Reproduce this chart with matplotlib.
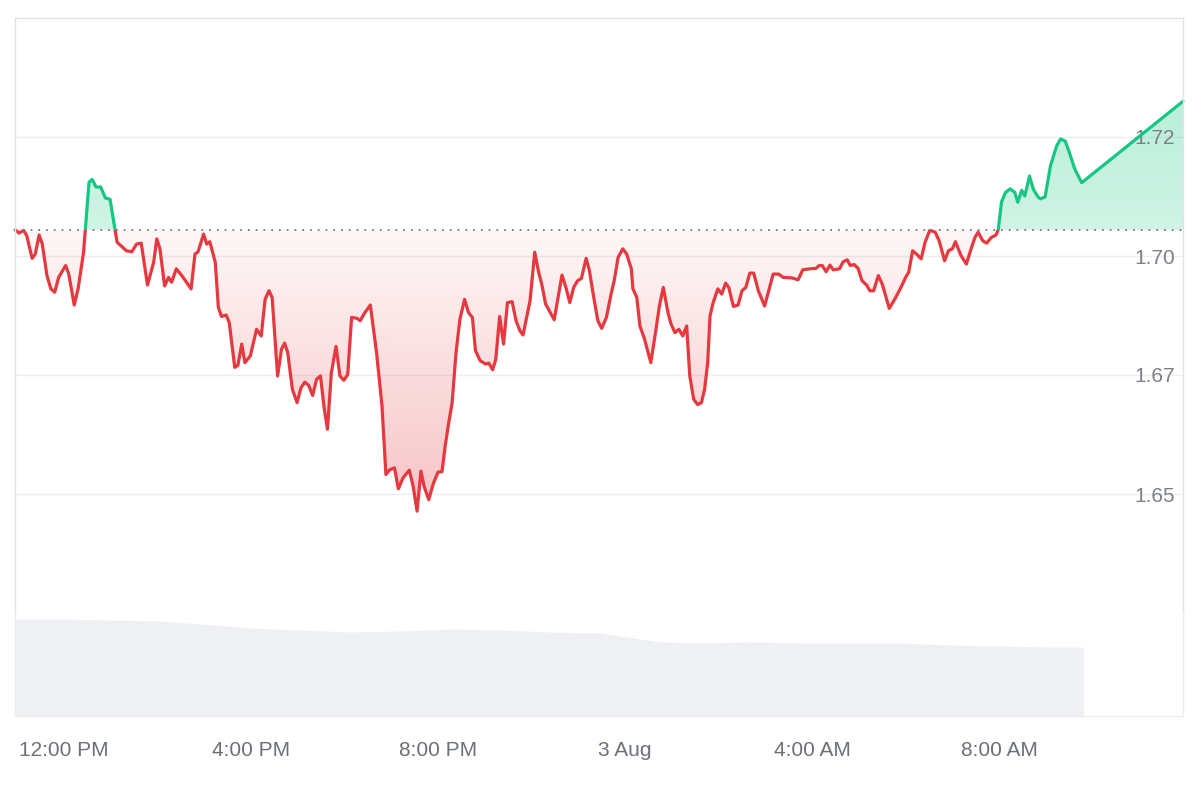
import numpy as np
import matplotlib
matplotlib.use("Agg")
import matplotlib.pyplot as plt
from matplotlib.path import Path
from matplotlib.patches import PathPatch, Rectangle
from matplotlib.colors import to_rgb

plt.rcParams['font.family'] = ['Liberation Sans', 'DejaVu Sans']

# time in minutes after 12:00 PM, 2 Aug
minutes = [-63, -61, -58, -52, -48, -41, -37, -32, -28, -22, -17, -12, -7, 2, 6, 13, 18, 25,
           32, 36, 41, 47, 53, 59, 68, 74, 80, 87, 93, 99, 107, 115, 119, 123, 129, 134, 138,
           144, 151, 157, 163, 168, 172, 179, 183, 187, 194, 198, 202, 208, 212, 219, 223, 228,
           232, 239, 247, 253, 258, 263, 267, 274, 279, 283, 287, 293, 299, 304, 309, 314, 319,
           324, 329, 334, 338, 343, 349, 354, 359, 364, 369, 376, 380, 386, 393, 401, 408, 413,
           418, 424, 429, 435, 443, 448, 453, 458, 462, 468, 474, 480, 485, 489, 493, 498, 503,
           508, 514, 519, 524, 528, 534, 541, 545, 550, 554, 559, 564, 569, 575, 580, 585, 589,
           598, 604, 609, 613, 618, 624, 629, 634, 639, 644, 649, 654, 659, 664, 670, 674, 679,
           685, 690, 696, 702, 706, 711, 717, 722, 728, 730, 735, 739, 745, 753, 759, 764, 769,
           775, 779, 784, 789, 794, 799, 803, 808, 813, 818, 822, 826, 829, 833, 839, 844, 849,
           853, 859, 865, 870, 875, 880, 885, 891, 899, 905, 910, 917, 923, 934, 942, 948, 957,
           965, 969, 973, 978, 983, 987, 995, 1000, 1005, 1009, 1014, 1019, 1024, 1030, 1034,
           1039, 1045, 1050, 1059, 1066, 1074, 1080, 1084, 1089, 1094, 1100, 1105, 1111, 1118,
           1123, 1130, 1135, 1140, 1144, 1151, 1158, 1164, 1169, 1173, 1179, 1184, 1190, 1196,
           1199, 1203, 1208, 1214, 1220, 1224, 1229, 1233, 1239, 1244, 1250, 1253, 1259, 1266,
           1274, 1279, 1285, 1290, 1297, 1306, 1436]

price = [1.7055, 1.7053, 1.7048, 1.7054, 1.7043, 1.6995, 1.7004, 1.7044, 1.7025, 1.6959, 1.6931,
         1.6924, 1.6955, 1.6980, 1.6962, 1.6897, 1.6931, 1.7008,
         1.7155, 1.7161, 1.7145, 1.7145, 1.7122, 1.7119, 1.7029, 1.7020, 1.7011, 1.7009, 1.7025,
         1.7027, 1.6939, 1.6987, 1.7036, 1.7015, 1.6937, 1.6955, 1.6945,
         1.6973, 1.6959, 1.6945, 1.6931, 1.7004, 1.7009, 1.7046, 1.7025, 1.7030, 1.6987, 1.6892,
         1.6873, 1.6876, 1.6860, 1.6766, 1.6770, 1.6815,
         1.6776, 1.6790, 1.6846, 1.6832, 1.6909, 1.6927, 1.6913, 1.6748, 1.6804, 1.6817, 1.6797,
         1.6720, 1.6692, 1.6723, 1.6735, 1.6728, 1.6707,
         1.6741, 1.6748, 1.6678, 1.6636, 1.6755, 1.6810, 1.6748, 1.6739, 1.6751, 1.6871, 1.6869,
         1.6864, 1.6881, 1.6897, 1.6797, 1.6685, 1.6541,
         1.6551, 1.6555, 1.6511, 1.6534, 1.6550, 1.6516, 1.6464, 1.6548, 1.6516, 1.6488, 1.6523,
         1.6546, 1.6547, 1.6600, 1.6643, 1.6692, 1.6797,
         1.6867, 1.6909, 1.6881, 1.6871, 1.6801, 1.6780, 1.6773, 1.6775, 1.6761, 1.6783, 1.6873,
         1.6815, 1.6902, 1.6904, 1.6864, 1.6843, 1.6834,
         1.6906, 1.7008, 1.6966, 1.6941, 1.6899, 1.6881, 1.6866, 1.6913, 1.6960, 1.6934, 1.6902,
         1.6934, 1.6948, 1.6953, 1.6995, 1.6971, 1.6920,
         1.6864, 1.6848, 1.6871, 1.6920, 1.6948, 1.6997, 1.7015, 1.7004, 1.6973, 1.6931, 1.6913,
         1.6853, 1.6825, 1.6776, 1.6839, 1.6895, 1.6934,
         1.6881, 1.6857, 1.6839, 1.6846, 1.6832, 1.6853, 1.6748, 1.6699, 1.6688, 1.6692, 1.6720,
         1.6776, 1.6874, 1.6902, 1.6931, 1.6920, 1.6943,
         1.6934, 1.6894, 1.6897, 1.6927, 1.6934, 1.6964, 1.6964, 1.6927, 1.6895, 1.6931, 1.6962,
         1.6962, 1.6955, 1.6954, 1.6950, 1.6971, 1.6973,
         1.6974, 1.6980, 1.6980, 1.6967, 1.6981, 1.6971, 1.6973, 1.6988, 1.6992, 1.6980, 1.6982,
         1.6974, 1.6948, 1.6939, 1.6927,
         1.6927, 1.6959, 1.6941, 1.6890, 1.6909, 1.6934, 1.6955, 1.6966, 1.7011, 1.7004, 1.6994,
         1.7029, 1.7054, 1.7050,
         1.7032, 1.6990, 1.7011, 1.7015, 1.7030, 1.7001, 1.6983, 1.7015, 1.7039, 1.7050, 1.7032,
         1.7027, 1.7039, 1.7044,
         1.7056, 1.7113, 1.7133, 1.7141, 1.7134, 1.7113, 1.7138, 1.7126, 1.7168, 1.7140, 1.7124,
         1.7120, 1.7124, 1.7190,
         1.7232, 1.7246, 1.7241, 1.7218, 1.7183, 1.7154, 1.7325]

# rolling volume (relative units)
vol_minutes = [-63, -5, 59, 123, 175, 239, 303, 367, 431, 495, 560, 624, 688, 714, 765, 816,
               880, 945, 1009, 1073, 1137, 1201, 1265, 1308]
volume = [97, 97, 96, 95, 92, 88, 86, 84, 85, 87, 86, 84, 83, 80, 74, 73, 74, 73, 73, 73, 71,
          70, 69, 69]

tick_minutes = [0, 240, 480, 720, 960, 1200]
tick_labels = ['12:00 PM', '4:00 PM', '8:00 PM', '3 Aug', '4:00 AM', '8:00 AM']
ytick_values = [1.65, 1.675, 1.70, 1.725]
ytick_labels = ['1.65', '1.67', '1.70', '1.72']

RED = '#e5383f'
GREEN = '#16c784'
XMIN, XMAX = -63, 1436
YMIN, YMAX = 1.625, 1.75
FS = 15

t = np.array(minutes, dtype=float)
p = np.array(price, dtype=float)
p0 = p[0]

fig = plt.figure(figsize=(12, 8), dpi=100)
fig.patch.set_facecolor('white')
ax = fig.add_axes([15 / 1200, 1 - 613 / 800, 1168 / 1200, 595 / 800])
axv = fig.add_axes([15 / 1200, 1 - 716 / 800, 1168 / 1200, 103 / 800])

# grid lines
for v in ytick_values:
    ax.axhline(v, color='#eeeeee', lw=1.0, zorder=0.5)


def gradient_fill(mask, y_lo, y_hi, rgb, a_lo, a_hi):
    coll = ax.fill_between(t, p, p0, where=mask, interpolate=True,
                           facecolor='none', edgecolor='none')
    paths = coll.get_paths()
    coll.remove()
    if not paths:
        return
    compound = Path.make_compound_path(*paths)
    patch = PathPatch(compound, transform=ax.transData, facecolor='none',
                      edgecolor='none')
    ax.add_patch(patch)
    n = 256
    arr = np.zeros((n, 2, 4))
    arr[..., :3] = rgb
    alphas = np.linspace(a_lo, a_hi, n)
    arr[..., 3] = alphas[:, None]
    im = ax.imshow(arr, extent=[XMIN, XMAX, y_lo, y_hi], origin='lower',
                   aspect='auto', zorder=1, interpolation='bilinear')
    im.set_clip_path(patch)


# red area: alpha strongest at lowest price
gradient_fill(p <= p0, p.min(), p0, to_rgb(RED), 0.30, 0.04)
# green area: alpha strongest at highest price
gradient_fill(p >= p0, p0, p.max(), to_rgb(GREEN), 0.20, 0.30)

# baseline (opening price)
ax.axhline(p0, color='#7a7a7a', lw=1.3, linestyle=(0, (1, 3.3)), zorder=1.5)

# y labels inside plot
for v, lab in zip(ytick_values, ytick_labels):
    ax.text((1175 - 15) / 1168, v, lab, transform=ax.get_yaxis_transform(),
            ha='right', va='center_baseline', fontsize=FS, color='#7b8089', zorder=1.8)

# price line, coloured by side of baseline
lr, = ax.plot(t, p, color=RED, lw=2.3, solid_joinstyle='round',
              solid_capstyle='round', zorder=2)
lr.set_clip_path(Rectangle((XMIN - 100, 1.0), 3000, p0 - 1.0,
                           transform=ax.transData))
lg, = ax.plot(t, p, color=GREEN, lw=2.3, solid_joinstyle='round',
              solid_capstyle='round', zorder=2)
lg.set_clip_path(Rectangle((XMIN - 100, p0), 3000, 1.0,
                           transform=ax.transData))

ax.set_xlim(XMIN, XMAX)
ax.set_ylim(YMIN, YMAX)
ax.set_xticks([])
ax.set_yticks([])
for s in ['top', 'left', 'right']:
    ax.spines[s].set_color('#e3e3e3')
    ax.spines[s].set_linewidth(1.0)
ax.spines['bottom'].set_color('#eeeeee')

# volume panel
axv.fill_between(vol_minutes, 0, volume, color='#eef0f4', lw=0)
axv.set_xlim(XMIN, XMAX)
axv.set_ylim(0, 103)
axv.set_yticks([])
axv.set_xticks(tick_minutes)
axv.set_xticklabels(tick_labels)
axv.tick_params(axis='x', length=0, pad=18, labelsize=FS, labelcolor='#6b7079')
axv.spines['top'].set_visible(False)
for s in ['left', 'right', 'bottom']:
    axv.spines[s].set_color('#eeeeee')
    axv.spines[s].set_linewidth(1.0)

fig.savefig('out.png', dpi=100, facecolor='white')
